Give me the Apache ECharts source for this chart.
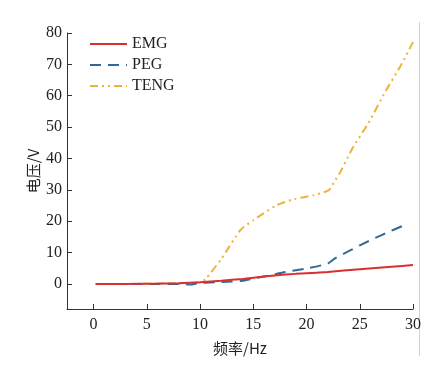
<!DOCTYPE html>
<html><head><meta charset="utf-8">
<script src="https://cdn.jsdelivr.net/npm/echarts@6/dist/echarts.min.js"></script>
<style>html,body{margin:0;padding:0;background:#fff}#c{width:445px;height:378px}</style>
</head><body><div id="c"></div>
<script>
const xTicks = [0, 5, 10, 15, 20, 25, 30];
const yTicks = [0, 10, 20, 30, 40, 50, 60, 70, 80];
const emgData = [[0.2,0],[3,0],[6,0.1],[8,0.2],[10,0.5],[12,1.0],[14,1.6],[15,2.0],[17,2.7],[19,3.2],[22,3.8],[25,4.7],[28,5.5],[30,6.0]];
const pegData = [[0.2,0],[3,0],[6,0],[8,0],[9,-0.2],[10,0.3],[12,0.6],[14,1.0],[15,1.7],[16.5,2.7],[18,3.8],[20,4.9],[22,6.5],[22.7,8.2],[24,10.5],[25,12.3],[27,15.5],[29.5,19.2]];
const tengData = [[0.2,0],[3,0],[6,0.1],[8,0.2],[10,0.5],[10.5,1.5],[12,8],[13.8,17.2],[15,20.3],[17.2,25.1],[18.8,27],[20.7,28.3],[22.1,29.9],[22.6,32.6],[23.2,35.8],[24.3,43.2],[25.8,51.2],[27.4,61.3],[28.8,69.3],[30,77.1]];
const serif = '"Liberation Serif","Times New Roman",serif';
const chart = echarts.init(document.getElementById('c'));
chart.setOption({
  animation: false,
  backgroundColor: '#fff',
  grid: {left: 67, right: 32, top: 33, bottom: 69},
  legend: {
    left: 84, top: 31, orient: 'vertical', itemGap: 5, itemWidth: 37, itemHeight: 15,
    itemStyle: {opacity: 0},
    textStyle: {fontFamily: serif, fontSize: 16, color: '#222'},
    data: ['EMG', 'PEG', 'TENG']
  },
  xAxis: {
    type: 'value', min: -2.5, max: 30,
    name: '频率/Hz', nameLocation: 'middle', nameGap: 32,
    nameTextStyle: {fontFamily: '"Noto Sans CJK SC",' + serif, fontSize: 15, color: '#222'},
    axisLine: {onZero: false, lineStyle: {color: '#333', width: 1}},
    axisTick: {inside: true, length: 5, customValues: xTicks, lineStyle: {color: '#333'}},
    axisLabel: {customValues: xTicks, fontFamily: serif, fontSize: 16, color: '#222', margin: 8},
    splitLine: {show: false}
  },
  yAxis: {
    type: 'value', min: -8, max: 80,
    name: '电压/V', nameLocation: 'middle', nameGap: 26, nameRotate: 90, nameMoveOverlap: false,
    nameTextStyle: {fontFamily: '"Noto Sans CJK SC",' + serif, fontSize: 15, color: '#222'},
    axisLine: {show: true, onZero: false, lineStyle: {color: '#333', width: 1}},
    axisTick: {show: true, inside: true, length: 5, customValues: yTicks, lineStyle: {color: '#333'}},
    axisLabel: {customValues: yTicks, fontFamily: serif, fontSize: 16, color: '#222', margin: 5},
    splitLine: {show: false}
  },
  series: [
    {name: 'EMG', type: 'line', data: emgData, showSymbol: false, symbol: 'none', smooth: 0.2,
      lineStyle: {color: '#d8302f', width: 2}, itemStyle: {color: '#d8302f'}, z: 4},
    {name: 'PEG', type: 'line', data: pegData, showSymbol: false, symbol: 'none', smooth: 0.2,
      lineStyle: {color: '#2f6a9c', width: 2, type: [11, 7]}, itemStyle: {color: '#2f6a9c'}, z: 3},
    {name: 'TENG', type: 'line', data: tengData, showSymbol: false, symbol: 'none', smooth: 0.2,
      lineStyle: {color: '#efb23a', width: 2, type: [8, 4, 2, 4, 2, 4]}, itemStyle: {color: '#efb23a'}, z: 2}
  ],
  graphic: [{type: 'line', shape: {x1: 419.5, y1: 22, x2: 419.5, y2: 356}, style: {stroke: '#ecc9c9', lineWidth: 1}}]
});
</script></body></html>
